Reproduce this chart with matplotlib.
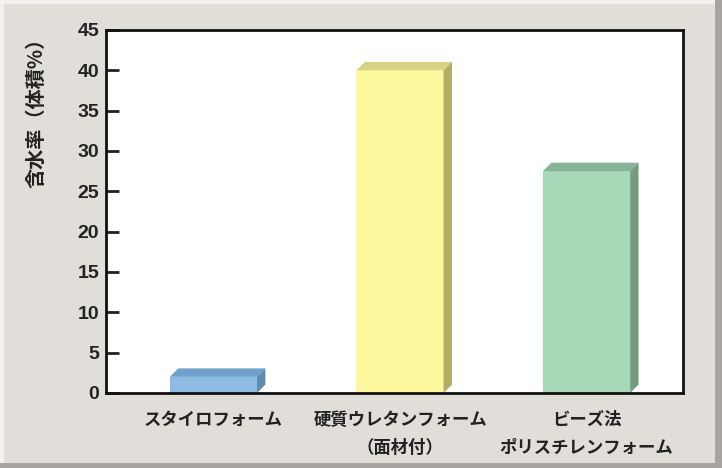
import matplotlib.pyplot as plt
from matplotlib.patches import Polygon, Rectangle

plt.rcParams['font.family'] = ['Noto Sans CJK JP', 'DejaVu Sans']

# data
categories = ['スタイロフォーム', '硬質ウレタンフォーム\n（面材付）', 'ビーズ法\nポリスチレンフォーム']
values = [2.0, 40.0, 27.5]
front_colors = ['#8dbbe3', '#fdf89e', '#a7d9b8']
top_colors = ['#6f9fcb', '#d9d385', '#86b496']
side_colors = ['#5e8bb2', '#b4ad66', '#719c80']
yticks = [0, 5, 10, 15, 20, 25, 30, 35, 40, 45]
ylabel = '含水率（体積%）'

bg = '#e1ddd9'
fig = plt.figure(figsize=(7.22, 4.68), dpi=100, facecolor=bg)
ax = fig.add_axes([0.1468, 0.1603, 0.7992, 0.7756])
ax.set_facecolor('white')

width = 0.467
dx, dy = 0.045, 1.05  # depth of the fake 3d block
xs = list(range(len(values)))
ax.bar(xs, values, width=width, color=front_colors, edgecolor='none', zorder=3)
for x, v, ct, cs in zip(xs, values, top_colors, side_colors):
    l, r = x - width / 2, x + width / 2
    ax.add_patch(Polygon([(l, v), (l + dx, v + dy), (r + dx, v + dy), (r, v)],
                         closed=True, facecolor=ct, edgecolor='none', zorder=3))
    ax.add_patch(Polygon([(r, 0), (r, v), (r + dx, v + dy), (r + dx, dy)],
                         closed=True, facecolor=cs, edgecolor='none', zorder=3))

ax.set_xlim(-0.576, 2.517)
ax.set_ylim(0, 45)
ax.set_yticks(yticks)
ax.set_xticks(xs)
ax.set_xticklabels(categories, fontsize=12.5, fontweight='bold', color='#222222',
                   linespacing=1.72)
ax.tick_params(axis='y', direction='in', length=9, width=2, labelsize=14,
               pad=5, colors='#222222')
for lab in ax.get_yticklabels():
    lab.set_family(['Liberation Sans', 'DejaVu Sans'])
    lab.set_fontweight('bold')
ax.tick_params(axis='x', length=0, pad=13)
for s in ax.spines.values():
    s.set_linewidth(2)
    s.set_color('#111111')
    s.set_zorder(5)

fig.text(0.05, 0.77, ylabel, rotation=90, ha='center', va='center',
         fontsize=14.5, fontweight='bold', color='#222222')

# bevelled frame around the picture
fig.add_artist(Rectangle((0, 0), 1, 1, transform=fig.transFigure, fill=False,
                         edgecolor='#f3f1ef', linewidth=6))
fig.add_artist(Rectangle((0, 0), 1, 0.011, transform=fig.transFigure,
                         facecolor='#a9a4a2', edgecolor='none'))
fig.add_artist(Rectangle((0.99, 0), 0.01, 1, transform=fig.transFigure,
                         facecolor='#a9a4a2', edgecolor='none'))

fig.savefig('out.png', dpi=100, facecolor=bg)
